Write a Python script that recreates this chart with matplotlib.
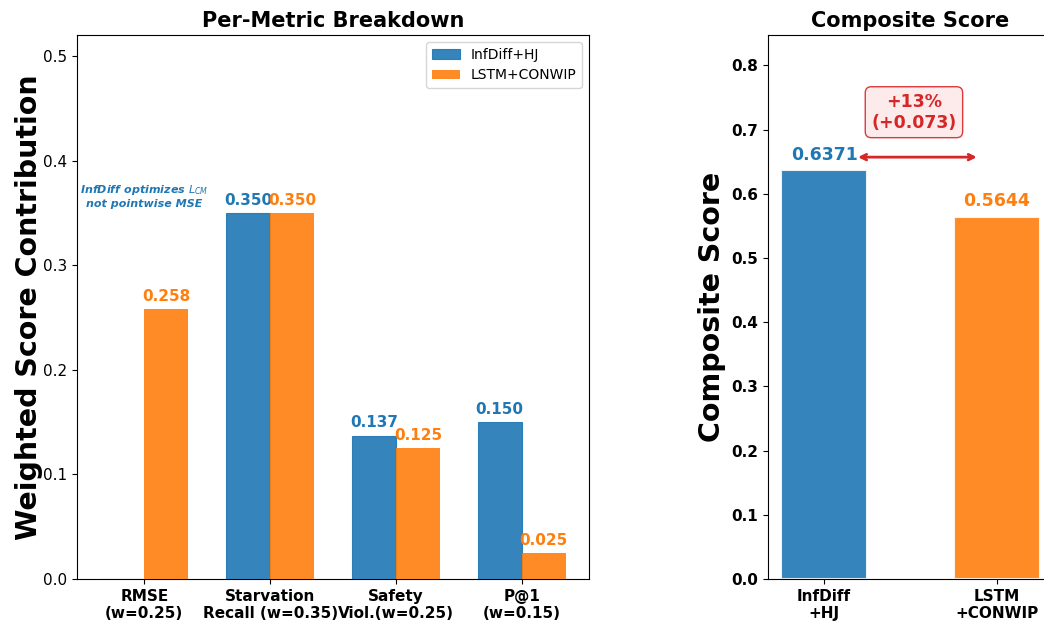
import numpy as np
import matplotlib.pyplot as plt

metrics = ['RMSE\n(w=0.25)', 'Starvation\nRecall (w=0.35)', 'Safety\nViol.(w=0.25)', 'P@1\n(w=0.15)']
infdiff_contrib = [0.0, 0.350, 0.137, 0.150]
lstm_contrib = [0.258, 0.350, 0.125, 0.025]

methods = ['InfDiff\n+HJ', 'LSTM\n+CONWIP']
composite = [0.6371, 0.5644]

blue = '#1f77b4'
orange = '#ff7f0e'
red = '#d62728'

fig = plt.figure(figsize=(10.44, 6.22), dpi=100)
ax1 = fig.add_axes([77 / 1044, 43 / 622, 512 / 1044, 544 / 622])
ax2 = fig.add_axes([768 / 1044, 43 / 622, 285 / 1044, 544 / 622])

# left: weighted contribution per metric
x = np.arange(len(metrics))
w = 0.35
b1 = ax1.bar(x - w / 2, infdiff_contrib, w, color=blue, alpha=0.9, label='InfDiff+HJ',
             edgecolor=blue, linewidth=0.8, zorder=3)
b2 = ax1.bar(x + w / 2, lstm_contrib, w, color=orange, alpha=0.9, label='LSTM+CONWIP', zorder=3)
for bars, vals, c in [(b1, infdiff_contrib, blue), (b2, lstm_contrib, orange)]:
    for bar, v in zip(bars, vals):
        if v > 0:
            ax1.text(bar.get_x() + bar.get_width() / 2, v + 0.005, f'{v:.3f}',
                     ha='center', va='bottom', fontsize=11, fontweight='bold', color=c)

ax1.text(0, 0.366, 'InfDiff optimizes $L_{CM}$\nnot pointwise MSE', ha='center', va='center',
         fontsize=8, fontweight='bold', style='italic', color=blue)

ax1.set_xticks(x)
ax1.set_xticklabels(metrics, fontsize=11, fontweight='bold')
ax1.set_ylim(0, 0.52)
ax1.tick_params(axis='y', labelsize=11)
ax1.set_ylabel('Weighted Score Contribution', fontsize=20.5, fontweight='bold', labelpad=0)
ax1.set_title('Per-Metric Breakdown', fontsize=15, fontweight='bold')
ax1.legend(loc='upper right', fontsize=10)

# right: composite score
xc = np.arange(len(methods))
ax2.bar(xc, composite, 0.5, color=[blue, orange], alpha=0.9, edgecolor='white', linewidth=1.5)
for xi, v, c in zip(xc, composite, [blue, orange]):
    ax2.text(xi, v + 0.01, f'{v:.4f}', ha='center', va='bottom', fontsize=12.5,
             fontweight='bold', color=c)

gain = composite[0] - composite[1]
pct = gain / composite[1] * 100
ax2.annotate('', xy=(0.9, composite[0] + 0.02), xytext=(0.18, composite[0] + 0.02),
             arrowprops=dict(arrowstyle='<->', color=red, lw=2))
ax2.text(0.52, composite[0] + 0.09, f'+{pct:.0f}%\n(+{gain:.3f})', ha='center', va='center',
         fontsize=12.5, fontweight='bold', color=red,
         bbox=dict(boxstyle='round,pad=0.35', facecolor='#fde8e8', edgecolor=red, alpha=0.9))

ax2.set_xticks(xc)
ax2.set_xticklabels(methods, fontsize=11, fontweight='bold')
ax2.set_ylim(0, max(composite) * 1.33)
for lab in ax2.get_yticklabels():
    lab.set_fontweight('bold')
ax2.tick_params(axis='y', labelsize=11)
ax2.set_ylabel('Composite Score', fontsize=20.5, fontweight='bold')
ax2.set_title('Composite Score', fontsize=15, fontweight='bold')

fig.savefig('out.png', dpi=100)
